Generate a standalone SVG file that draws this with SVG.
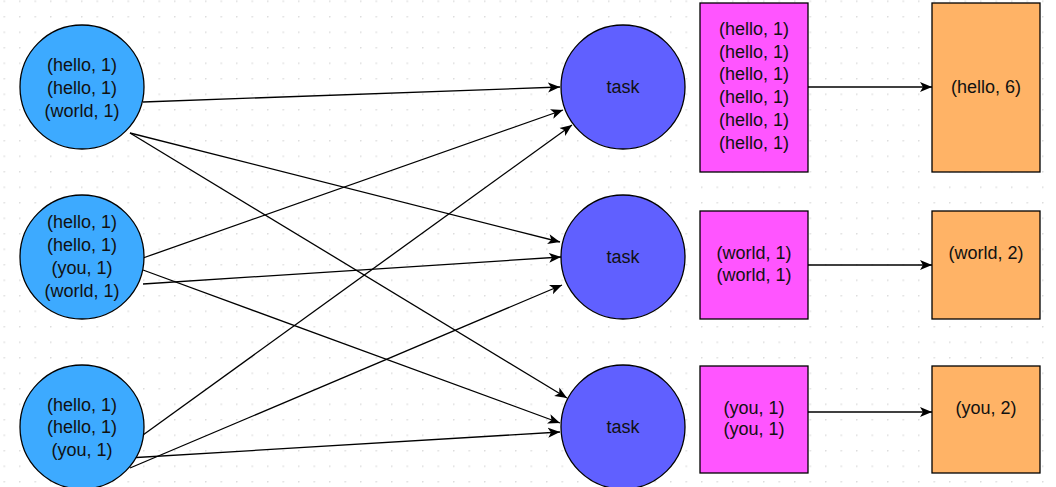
<svg xmlns="http://www.w3.org/2000/svg" width="1056" height="487" viewBox="0 0 1056 487">
<style>
text{font-family:"Liberation Sans",Arial,sans-serif;font-size:18px;fill:#111;text-anchor:middle}
.src{fill:#3DAAFF;stroke:#000;stroke-width:1.3}
.task{fill:#6060FF;stroke:#000;stroke-width:1.3}
.pink{fill:#FF55FF;stroke:#000;stroke-width:1.3}
.orange{fill:#FFB366;stroke:#000;stroke-width:1.3}
.edge{fill:none;stroke:#000;stroke-width:1.3;marker-end:url(#arr)}
</style>
<defs>
<pattern id="grid" x="3.5" y="0.5" width="15.5" height="15.5" patternUnits="userSpaceOnUse">
<circle cx="0.8" cy="0.8" r="0.8" fill="#d4d4d4"/>
</pattern>
<marker id="arr" markerUnits="userSpaceOnUse" viewBox="0 -6 13 12" refX="12" refY="0" markerWidth="13" markerHeight="12" orient="auto">
<path d="M0,-5 L12,0 L0,5 L3,0 z" fill="#000"/>
</marker>
</defs>
<rect width="1056" height="487" fill="#fff"/>
<rect width="1056" height="487" fill="url(#grid)"/>
<g id="connectors">
<line class="edge" x1="143" y1="102" x2="560" y2="87"/>
<line class="edge" x1="130" y1="133" x2="560" y2="242"/>
<line class="edge" x1="130" y1="133" x2="567" y2="398"/>
<line class="edge" x1="143" y1="258" x2="563" y2="110"/>
<line class="edge" x1="143" y1="270" x2="560" y2="423"/>
<line class="edge" x1="143" y1="284" x2="561" y2="257"/>
<line class="edge" x1="143" y1="435" x2="572" y2="125"/>
<line class="edge" x1="130" y1="468" x2="562" y2="285"/>
<line class="edge" x1="128" y1="458" x2="560" y2="432"/>
<line class="edge" x1="808" y1="87" x2="932" y2="87"/>
<line class="edge" x1="808" y1="265" x2="932" y2="265"/>
<line class="edge" x1="808" y1="412" x2="932" y2="412"/>
</g>
<g id="src1"><circle class="src" cx="82" cy="87" r="62"/>
<text x="82" y="71">(hello, 1)</text><text x="82" y="94">(hello, 1)</text><text x="82" y="117">(world, 1)</text></g>
<g id="src2"><circle class="src" cx="82" cy="257" r="62"/>
<text x="82" y="228">(hello, 1)</text><text x="82" y="251">(hello, 1)</text><text x="82" y="274">(you, 1)</text><text x="82" y="297">(world, 1)</text></g>
<g id="src3"><circle class="src" cx="82" cy="427" r="62"/>
<text x="82" y="411">(hello, 1)</text><text x="82" y="433">(hello, 1)</text><text x="82" y="456">(you, 1)</text></g>
<g id="task1"><circle class="task" cx="623" cy="87" r="62"/><text x="623" y="93">task</text></g>
<g id="task2"><circle class="task" cx="623" cy="257" r="62"/><text x="623" y="263">task</text></g>
<g id="task3"><circle class="task" cx="623" cy="427" r="62"/><text x="623" y="433">task</text></g>
<g id="group1"><rect class="pink" x="700" y="3" width="108" height="169"/>
<text x="754" y="35">(hello, 1)</text><text x="754" y="58">(hello, 1)</text><text x="754" y="80">(hello, 1)</text><text x="754" y="103">(hello, 1)</text><text x="754" y="126">(hello, 1)</text><text x="754" y="149">(hello, 1)</text></g>
<g id="group2"><rect class="pink" x="700" y="211" width="108" height="108"/>
<text x="754" y="259">(world, 1)</text><text x="754" y="281">(world, 1)</text></g>
<g id="group3"><rect class="pink" x="700" y="366" width="108" height="107"/>
<text x="754" y="414">(you, 1)</text><text x="754" y="435">(you, 1)</text></g>
<g id="result1"><rect class="orange" x="932" y="3" width="108" height="169"/><text x="986" y="93">(hello, 6)</text></g>
<g id="result2"><rect class="orange" x="932" y="211" width="108" height="108"/><text x="986" y="259">(world, 2)</text></g>
<g id="result3"><rect class="orange" x="932" y="366" width="108" height="107"/><text x="986" y="414">(you, 2)</text></g>
</svg>
